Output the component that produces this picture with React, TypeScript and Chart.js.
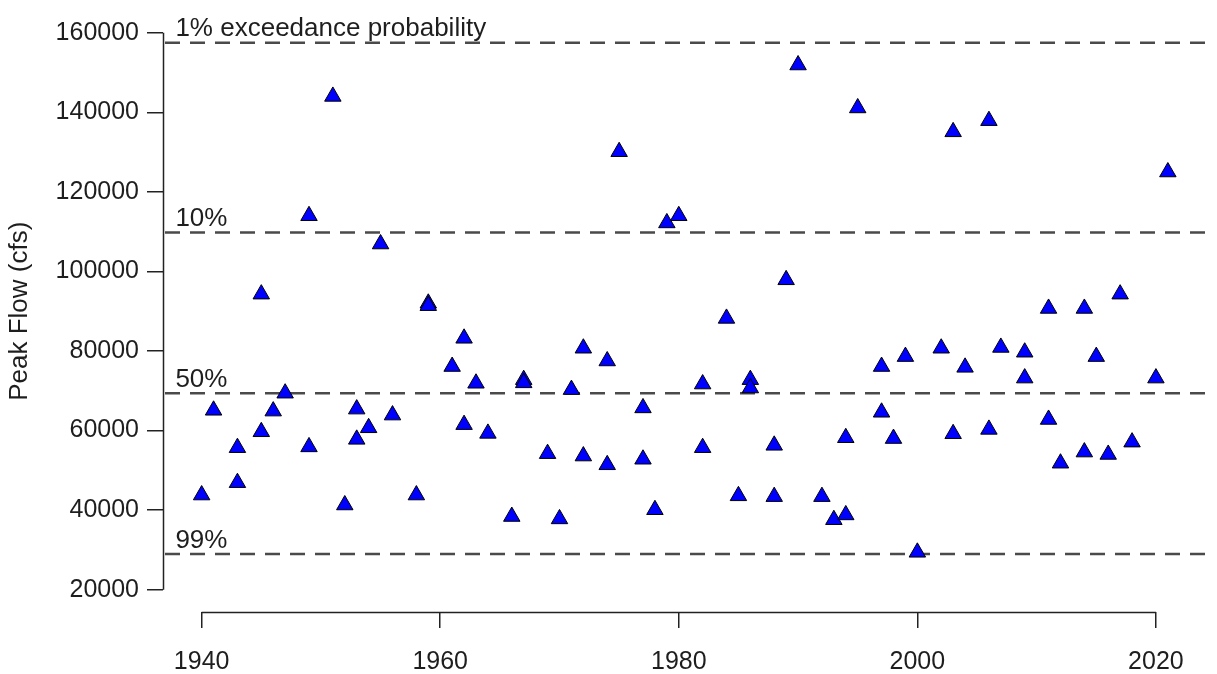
import React, { useEffect, useRef } from "react";
import { Chart, registerables } from "chart.js";

Chart.register(...registerables);

// Annual peak flow record
const years = [
  1940, 1941, 1943, 1943, 1945, 1945, 1946, 1947, 1949, 1949,
  1951, 1952, 1953, 1953, 1954, 1955, 1956, 1958, 1959, 1959,
  1961, 1962, 1962, 1963, 1964, 1966, 1967, 1967, 1969, 1970,
  1971, 1972, 1972, 1974, 1974, 1975, 1977, 1977, 1978, 1979,
  1980, 1982, 1982, 1984, 1985, 1986, 1986, 1988, 1988, 1989,
  1990, 1992, 1993, 1994, 1994, 1995, 1997, 1997, 1998, 1999,
  2000, 2002, 2003, 2003, 2004, 2006, 2006, 2007, 2009, 2009,
  2011, 2011, 2012, 2014, 2014, 2015, 2016, 2017, 2018, 2020,
  2021,
];

const peakFlows = [
  43800, 65100, 55700, 46900, 94300, 59700, 64900, 69400, 114000, 55900,
  144000, 41300, 65400, 57800, 60700, 106900, 63900, 43800, 92000, 91400,
  76100, 83200, 61500, 71900, 59300, 38400, 72800, 72000, 54200, 37800,
  70300, 80700, 53600, 77500, 51400, 130100, 65700, 52800, 40100, 112200,
  114000, 71700, 55700, 88200, 43600, 72800, 70700, 56300, 43400, 97900,
  151900, 43400, 37600, 38800, 58200, 141100, 76100, 64600, 58000, 78600,
  29400, 80700, 135100, 59200, 75900, 137900, 60300, 80900, 79700, 73200,
  90700, 62800, 51800, 90700, 54600, 78600, 54000, 94300, 57100, 73200,
  125000,
];

// Flood-frequency reference levels
const exceedanceLabels = ["1% exceedance probability", "10%", "50%", "99%"];
const exceedanceFlows = [157500, 109800, 69400, 29000];

const xTickValues = [1940, 1960, 1980, 2000, 2020];
const yTickValues = [20000, 40000, 60000, 80000, 100000, 120000, 140000, 160000];

const FONT_FAMILY = '"Liberation Sans", Arial, Helvetica, sans-serif';
const TICK_FONT_SIZE = 25;
const LABEL_FONT_SIZE = 26;
const TEXT_COLOR = "#1e1e1e";

// Reference lines, their labels, and axis lines spanning first to last tick
const referenceLines = {
  id: "referenceLines",
  beforeDatasetsDraw(chart: any) {
    const { ctx, chartArea } = chart;
    const xs = chart.scales.x;
    const ys = chart.scales.y;
    ctx.save();

    ctx.strokeStyle = "#4a4a4a";
    ctx.lineWidth = 2.5;
    ctx.setLineDash([15, 10]);
    exceedanceFlows.forEach((v) => {
      const py = ys.getPixelForValue(v);
      ctx.beginPath();
      ctx.moveTo(chartArea.left + 2, py);
      ctx.lineTo(chartArea.right, py);
      ctx.stroke();
    });
    ctx.setLineDash([]);

    ctx.fillStyle = TEXT_COLOR;
    ctx.font = `${LABEL_FONT_SIZE}px ${FONT_FAMILY}`;
    ctx.textAlign = "left";
    ctx.textBaseline = "alphabetic";
    exceedanceLabels.forEach((t, i) => {
      ctx.fillText(t, xs.getPixelForValue(1937.8), ys.getPixelForValue(exceedanceFlows[i] + 1600));
    });

    ctx.strokeStyle = "#222222";
    ctx.lineWidth = 1.5;
    ctx.beginPath();
    const bx = Math.round(chartArea.bottom) + 0.5;
    ctx.moveTo(xs.getPixelForValue(xTickValues[0]), bx);
    ctx.lineTo(xs.getPixelForValue(xTickValues[xTickValues.length - 1]), bx);
    const lx = Math.round(chartArea.left) + 0.5;
    ctx.moveTo(lx, ys.getPixelForValue(yTickValues[0]));
    ctx.lineTo(lx, ys.getPixelForValue(yTickValues[yTickValues.length - 1]));
    ctx.stroke();

    ctx.restore();
  },
};

export default function App() {
  const canvasRef = useRef<HTMLCanvasElement | null>(null);

  useEffect(() => {
    const canvas = canvasRef.current;
    if (!canvas) return;
    const points = years.map((yr, i) => ({ x: yr, y: peakFlows[i] }));

    const tickFont = { family: FONT_FAMILY, size: TICK_FONT_SIZE };
    const chart = new Chart(canvas, {
      type: "scatter",
      data: {
        datasets: [
          {
            data: points,
            pointStyle: "triangle",
            pointRadius: 9.5,
            pointHoverRadius: 9.5,
            backgroundColor: "#0000ff",
            borderColor: "#000000",
            borderWidth: 1,
          },
        ],
      },
      options: {
        responsive: false,
        maintainAspectRatio: false,
        animation: false,
        events: [],
        layout: { padding: { top: 7, right: 2, left: 0, bottom: 0 } },
        plugins: {
          legend: { display: false },
          tooltip: { enabled: false },
        },
        scales: {
          x: {
            type: "linear",
            min: 1936.76,
            max: 2024.24,
            afterBuildTicks: (scale: any) => {
              scale.ticks = xTickValues.map((v) => ({ value: v }));
            },
            afterFit: (scale: any) => {
              scale.height = 62;
              scale.paddingLeft = 0;
              scale.paddingRight = 0;
            },
            border: { display: false },
            grid: {
              display: true,
              drawOnChartArea: false,
              drawTicks: true,
              tickLength: 16,
              color: "#222222",
              lineWidth: 1.5,
            },
            ticks: {
              font: tickFont,
              color: TEXT_COLOR,
              padding: 19,
              maxRotation: 0,
              autoSkip: false,
              callback: (v: any) => String(v),
            },
          },
          y: {
            type: "linear",
            min: 14400,
            max: 165600,
            afterBuildTicks: (scale: any) => {
              scale.ticks = yTickValues.map((v) => ({ value: v }));
            },
            afterFit: (scale: any) => {
              scale.width = 163;
              scale.paddingTop = 0;
              scale.paddingBottom = 0;
            },
            border: { display: false },
            grid: {
              display: true,
              drawOnChartArea: false,
              drawTicks: true,
              tickLength: 16,
              color: "#222222",
              lineWidth: 1.5,
            },
            ticks: {
              font: tickFont,
              color: TEXT_COLOR,
              padding: 8,
              autoSkip: false,
              callback: (v: any) => String(v),
            },
            title: {
              display: true,
              text: "Peak Flow (cfs)",
              font: { family: FONT_FAMILY, size: LABEL_FONT_SIZE },
              color: TEXT_COLOR,
              padding: { top: 4, bottom: 0 },
            },
          },
        },
      },
      plugins: [referenceLines],
    } as any);

    return () => chart.destroy();
  }, []);

  return (
    <div
      style={{
        position: "fixed",
        left: 0,
        top: 0,
        width: 1217,
        height: 674,
        background: "#ffffff",
      }}
    >
      <canvas ref={canvasRef} width={1217} height={674} style={{ width: 1217, height: 674, display: "block" }} />
    </div>
  );
}
